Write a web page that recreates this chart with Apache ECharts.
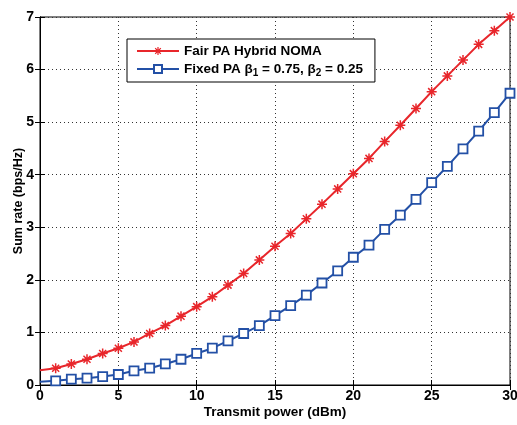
<!DOCTYPE html>
<html><head><meta charset="utf-8">
<script src="https://cdn.jsdelivr.net/npm/echarts@6/dist/echarts.min.js"></script>
<style>html,body{margin:0;padding:0;background:#fff}#c{width:517px;height:425px}</style>
</head><body><div id="c"></div>
<script>
const xValues = [0,1,2,3,4,5,6,7,8,9,10,11,12,13,14,15,16,17,18,19,20,21,22,23,24,25,26,27,28,29,30];
const fairPA = [0.28,0.32,0.40,0.49,0.60,0.70,0.82,0.98,1.13,1.31,1.49,1.68,1.90,2.12,2.38,2.64,2.88,3.16,3.44,3.73,4.02,4.31,4.63,4.94,5.26,5.58,5.88,6.18,6.48,6.74,7.00];
const fixedPA = [0.06,0.08,0.11,0.13,0.16,0.20,0.27,0.32,0.40,0.49,0.60,0.70,0.84,0.98,1.13,1.32,1.51,1.71,1.94,2.17,2.43,2.66,2.96,3.23,3.53,3.85,4.16,4.49,4.83,5.18,5.55];
const xTicks = [0,5,10,15,20,25,30];
const yTicks = [0,1,2,3,4,5,6,7];
const seriesNames = ['Fair PA Hybrid NOMA', 'Fixed PA'];

const RED = '#e8262b', BLUE = '#2350a6';
const FONT = '"Liberation Sans", Arial, sans-serif';
const star = 'path://M8.5,0 L11.5,0 L11.5,6.4 L16,1.9 L18.1,4 L13.6,8.5 L20,8.5 L20,11.5 L13.6,11.5 L18.1,16 L16,18.1 L11.5,13.6 L11.5,20 L8.5,20 L8.5,13.6 L4,18.1 L1.9,16 L6.4,11.5 L0,11.5 L0,8.5 L6.4,8.5 L1.9,4 L4,1.9 L8.5,6.4 Z';

function mk(vals){
  return xValues.map((x,i)=> i===0 ? {value:[x,vals[i]], symbolSize:0} : {value:[x,vals[i]]});
}
const chart = echarts.init(document.getElementById('c'));
const axisCommon = {
  min: 0, axisLine:{show:true,lineStyle:{color:'#000',width:1}},
  axisTick:{show:true,inside:true,length:5,lineStyle:{color:'#000'}}
};
chart.setOption({
  animation:false,
  backgroundColor:'#fff',
  grid:{left:40,right:7,top:17,bottom:40,show:true,borderColor:'#000',borderWidth:1,
        containLabel:false,outerBoundsMode:'none'},
  legend:{
    orient:'vertical', left:127, top:39, width:246,
    backgroundColor:'#fff', borderColor:'#000', borderWidth:1, borderRadius:0,
    padding:[5,12,4,9], itemGap:4, itemWidth:42, itemHeight:10,
    data:seriesNames,
    textStyle:{fontFamily:FONT,fontWeight:'bold',fontSize:13.5,color:'#000',
      rich:{t:{fontFamily:FONT,fontWeight:'bold',fontSize:13.5,color:'#000'},
            s:{fontFamily:FONT,fontWeight:'bold',fontSize:10,color:'#000',padding:[8,0,0,0]}}},
    formatter:function(n){
      if(n==='Fixed PA') return '{t|Fixed PA β}{s|1}{t| = 0.75, β}{s|2}{t| = 0.25}';
      return n;
    }
  },
  xAxis:[Object.assign({type:'value',max:30,interval:5,position:'bottom',
    name:'Transmit power (dBm)',nameLocation:'middle',nameGap:20,nameMoveOverlap:false,
    nameTextStyle:{fontFamily:FONT,fontWeight:'bold',fontSize:13.5,color:'#000'},
    axisLabel:{fontFamily:FONT,fontWeight:'bold',fontSize:14,color:'#000',margin:4,
      formatter:v=>xTicks.includes(v)?String(v):''},
    splitLine:{show:true,lineStyle:{color:'#333',type:[1,3],width:1}}},axisCommon),
    Object.assign({type:'value',max:30,interval:5,position:'top',axisLabel:{show:false},splitLine:{show:false}},axisCommon)],
  yAxis:[Object.assign({type:'value',max:7,interval:1,position:'left',
    name:'Sum rate (bps/Hz)',nameLocation:'middle',nameGap:15,nameMoveOverlap:false,
    nameTextStyle:{fontFamily:FONT,fontWeight:'bold',fontSize:12.5,color:'#000'},
    axisLabel:{fontFamily:FONT,fontWeight:'bold',fontSize:14,color:'#000',margin:6,
      formatter:v=>yTicks.includes(v)?String(v):''},
    splitLine:{show:true,lineStyle:{color:'#333',type:[1,3],width:1}}},axisCommon),
    Object.assign({type:'value',max:7,interval:1,position:'right',axisLabel:{show:false},splitLine:{show:false}},axisCommon)],
  series:[
    {name:seriesNames[0],type:'line',data:mk(fairPA),symbol:star,symbolSize:10,
     lineStyle:{color:RED,width:2},itemStyle:{color:RED}},
    {name:seriesNames[1],type:'line',data:mk(fixedPA),symbol:'rect',symbolSize:9,
     lineStyle:{color:BLUE,width:2},itemStyle:{color:'#fff',borderColor:BLUE,borderWidth:1.8}}
  ]
});
</script></body></html>
